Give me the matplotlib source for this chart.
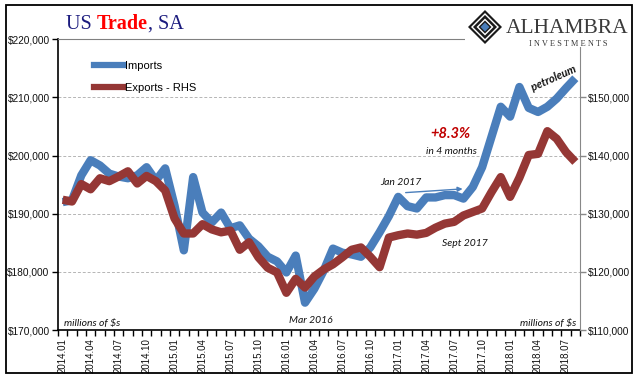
import matplotlib
matplotlib.use("Agg")
import matplotlib.pyplot as plt
from matplotlib.patches import Polygon, Rectangle
from matplotlib.lines import Line2D
from matplotlib.ticker import FuncFormatter, FixedLocator
import numpy as np
import pandas as pd

# monthly, seasonally adjusted, millions of $
months = pd.period_range("2014-01", "2018-08", freq="M").strftime("%Y.%m").tolist()

imports = [192000, 192300, 196600, 199200, 198300, 196900, 196400, 196100, 196600, 198000, 195700, 197800,
           191400, 183700, 196300, 190200, 188500, 190200, 187500, 188000, 185700, 184400, 182600, 181800,
           179900, 182800, 174700, 177100, 180200, 184000, 183300, 183000, 182600, 184200, 186800, 189600,
           192900, 191300, 190900, 192800, 192800, 193200, 193200, 192600, 194600, 198000, 203200, 208400,
           206700, 211800, 208200, 207500, 208400, 209800, 211600, 213300]

exports = [132400, 132100, 135100, 134200, 136100, 135600, 136400, 137300, 135200, 136500, 135600, 134000,
           129200, 126600, 126600, 128200, 127300, 126800, 127100, 123800, 125100, 122500, 120700, 119900,
           116400, 118800, 117300, 119200, 120400, 121300, 122500, 123800, 124200, 122600, 120800, 125900,
           126300, 126600, 126400, 126700, 127600, 128300, 128600, 129700, 130300, 130900, 133700, 136300,
           132900, 136200, 140100, 140300, 144200, 142900, 140600, 138900]

tick_labels = ["2014.01", "2014.04", "2014.07", "2014.10", "2015.01", "2015.04", "2015.07", "2015.10",
               "2016.01", "2016.04", "2016.07", "2016.10", "2017.01", "2017.04", "2017.07", "2017.10",
               "2018.01", "2018.04", "2018.07"]

BLUE = "#4a7ebb"
RED = "#953735"
W, H = 641, 381


def fx(px):
    return px / W


def fy(py):
    return 1 - py / H


fig = plt.figure(figsize=(W / 100, H / 100), dpi=100)
ax = fig.add_axes([fx(58), fy(330), fx(580) - fx(58), fy(39.3) - fy(330)])
ax2 = ax.twinx()

x = np.arange(len(months))
ax.plot(x, imports, color=BLUE, lw=6, solid_joinstyle="round", solid_capstyle="butt", zorder=3)
ax2.plot(x, exports, color=RED, lw=6, solid_joinstyle="round", solid_capstyle="butt", zorder=3)

ax.set_xlim(-0.5, len(months) - 0.5)
ax.set_ylim(170000, 220000)
ax2.set_ylim(110000, 160000)

money = FuncFormatter(lambda v, p: "${:,.0f}".format(v))
ax.set_yticks(np.arange(170000, 220001, 10000))
ax.yaxis.set_major_formatter(money)
ax2.set_yticks(np.arange(110000, 150001, 10000))
ax2.yaxis.set_major_formatter(money)

ax.set_xticks(x[::3])
ax.set_xticklabels(tick_labels, rotation=90)
ax.xaxis.set_minor_locator(FixedLocator(np.arange(-0.5, len(months), 1)))
ax.tick_params(axis="x", which="major", length=0, pad=6, labelsize=7, labelcolor="#111111")
ax.tick_params(axis="x", which="minor", length=4, width=1, direction="out", color="black")
ax.tick_params(axis="y", length=4, width=1, direction="out", color="black", labelsize=7.3,
               labelcolor="#111111", pad=2)
ax2.tick_params(axis="y", length=4, width=1, direction="out", color="#888888", labelsize=7.3,
                labelcolor="#111111", pad=2)
for lab in ax.get_xticklabels() + ax.get_yticklabels() + ax2.get_yticklabels():
    lab.set_fontfamily("Liberation Sans")

ax.grid(axis="y", ls=(0, (3, 2)), color="#b5b5b5", lw=0.7)
ax.set_axisbelow(True)

for s in ["left", "bottom"]:
    ax.spines[s].set_color("black")
    ax.spines[s].set_linewidth(1.2)
ax.spines["top"].set_color("#808080")
ax.spines["right"].set_visible(False)
for s in ["left", "bottom", "top"]:
    ax2.spines[s].set_visible(False)
ax2.spines["right"].set_color("#888888")

# legend
handles = [Line2D([], [], color=BLUE, lw=4.5), Line2D([], [], color=RED, lw=4.5)]
fig.legend(handles, ["Imports", "Exports - RHS"], loc="upper left",
           bbox_to_anchor=(fx(94), fy(61)), frameon=False, borderpad=0, borderaxespad=0,
           handlelength=2.6, handletextpad=0.15, labelspacing=1.05,
           prop={"family": "Liberation Sans", "size": 8})

# annotations
note = dict(family="Lato", style="italic", fontsize=7.5, color="#111111")
ax.text(0.15, 171200, "millions of $s", ha="left", va="center", **note)
ax.text(55.05, 171200, "millions of $s", ha="right", va="center", **note)
ax.text(26.6, 171600, "Mar 2016", ha="center", va="center", **note)
ax.text(36.3, 195400, "Jan 2017", ha="center", va="center", **note)
ax.text(43.1, 184900, "Sept 2017", ha="center", va="center", **note)
ax.text(41.7, 200700, "in 4 months", ha="center", va="center", **note)
ax.text(41.6, 203700, "+8.3%", ha="center", va="center", family="Lato", style="italic",
        weight="bold", fontsize=10.5, color="#c00000")
ax.text(52.7, 213300, "petroleum", ha="center", va="center", rotation=24, family="Lato",
        style="italic", weight="bold", fontsize=8, color="#111111", zorder=5)
ax.annotate("", xy=(43.2, 194300), xytext=(36.5, 193600),
            arrowprops=dict(arrowstyle="-|>", color=BLUE, lw=1, mutation_scale=7))

# title in three colours
rend = fig.canvas.get_renderer()
tx = fx(66)
for part, col, wt in [("US ", "#1b1b7e", "normal"), ("Trade", "#ff0000", "bold"), (", SA", "#1b1b7e", "normal")]:
    t = fig.text(tx, fy(29), part, color=col, weight=wt, family="Liberation Serif", fontsize=14.5,
                 ha="left", va="baseline")
    bb = t.get_window_extent(rend)
    tx = bb.x1 / fig.bbox.width

# logo block (covers the top-right corner of the plot frame)
fig.patches.append(Rectangle((fx(465), fy(47)), fx(632) - fx(465), fy(8) - fy(47),
                             transform=fig.transFigure, facecolor="white", edgecolor="none", zorder=4))
cx, cy = 485, 27
for r, c in [(17, "#1a1a1a"), (14, "white"), (12, "#1a1a1a"), (8.5, "white"), (6.5, "#1a1a1a"), (4.5, BLUE)]:
    pts = [(fx(cx), fy(cy - r)), (fx(cx + r), fy(cy)), (fx(cx), fy(cy + r)), (fx(cx - r), fy(cy))]
    fig.patches.append(Polygon(pts, closed=True, transform=fig.transFigure, facecolor=c,
                               edgecolor="none", zorder=5))
fig.text(fx(567), fy(33), "ALHAMBRA", family="Liberation Serif", fontsize=15.5, color="#3a3a3a",
         ha="center", va="baseline", zorder=6)
fig.text(fx(568), fy(45.5), "I N V E S T M E N T S", family="Liberation Serif", fontsize=6,
         color="#3a3a3a", ha="center", va="baseline", zorder=6)

# outer frame
fig.patches.append(Rectangle((fx(6), fy(373)), fx(632) - fx(6), fy(5) - fy(373),
                             transform=fig.transFigure, facecolor="none", edgecolor="black",
                             lw=1.3, zorder=7))

fig.savefig("out.png", dpi=100)
